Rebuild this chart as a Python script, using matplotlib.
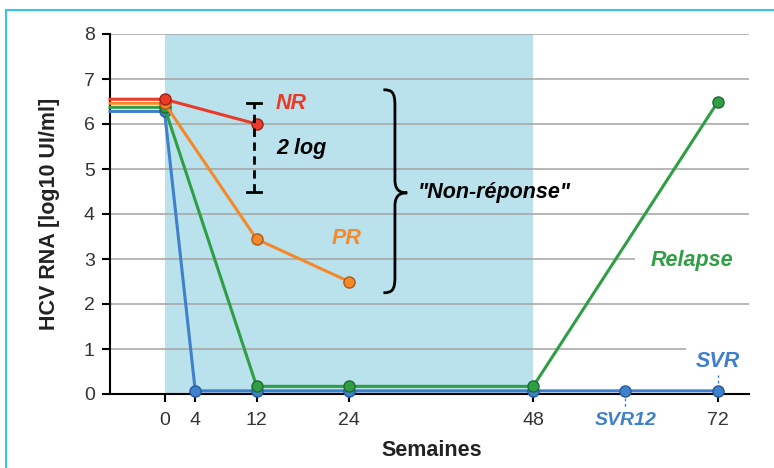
import matplotlib
matplotlib.use('Agg')
import matplotlib.pyplot as plt
from matplotlib.path import Path
from matplotlib.patches import PathPatch, Rectangle

plt.rcParams['font.family'] = ['Liberation Sans', 'DejaVu Sans']

# Data (weeks, log10 UI/ml); first point = pre-treatment baseline at axis start
x_start = -7.1
nr_weeks = [x_start, 0, 12]
nr_vals = [6.55, 6.55, 6.0]
pr_weeks = [x_start, 0, 12, 24]
pr_vals = [6.46, 6.46, 3.44, 2.5]
rel_weeks = [x_start, 0, 12, 24, 48, 72]
rel_vals = [6.37, 6.37, 0.17, 0.17, 0.17, 6.48]
svr_weeks = [x_start, 0, 4, 12, 24, 48, 60, 72]
svr_vals = [6.28, 6.28, 0.07, 0.07, 0.07, 0.07, 0.07, 0.07]

tick_pos = [0, 4, 12, 24, 48, 60, 72]
tick_labels = ['0', '4', '12', '24', '48', 'SVR12', '72']
treat_start, treat_end = 0, 48

RED = '#ec3a28'
ORANGE = '#f5892a'
GREEN = '#2f9e44'
BLUE = '#3f80cc'
SHADE = '#b9e2ec'
FS = 15.5

fig = plt.figure(figsize=(7.74, 4.68), dpi=100)
ax = fig.add_axes([110/774, 1 - 394/468, (749 - 110)/774, 360/468])
ax.set_xlim(x_start, 76.1)
ax.set_ylim(0, 8)

# treatment period
ax.axvspan(treat_start, treat_end, color=SHADE, zorder=0.2, lw=0)

ax.set_yticks(range(0, 9))
ax.yaxis.grid(True, color='#a3a3a3', lw=1.1, zorder=0.5)
ax.set_axisbelow(True)
for s in ['top', 'right']:
    ax.spines[s].set_visible(False)
ax.spines['left'].set_linewidth(1.5)
ax.spines['bottom'].set_linewidth(1.5)
ax.tick_params(axis='both', direction='out', length=6, width=1.5, labelsize=14,
               labelcolor='#333333')
ax.tick_params(axis='y', pad=5)
ax.tick_params(axis='x', pad=7)
ax.set_xticks(tick_pos)
ax.set_xticklabels(tick_labels)
svr12 = ax.get_xticklabels()[5]
svr12.set_color(BLUE)
svr12.set_fontweight('bold')
svr12.set_fontstyle('italic')
ax.xaxis.get_major_ticks()[5].tick1line.set_visible(False)
ax.plot([60, 60], [-0.08, -0.28], color=BLUE, lw=1, ls=(0, (2, 2)), clip_on=False)
ax.plot([72, 72], [0.25, 0.42], color=BLUE, lw=1, ls=(0, (2, 2)), zorder=3)


def series(xs, ys, color, edge):
    ax.plot(xs, ys, color=color, lw=2.2, marker='o', ms=8, markevery=slice(1, None),
            mfc=color, mec=edge, mew=1, clip_on=False, zorder=3)


series(svr_weeks, svr_vals, BLUE, '#2a5a96')
series(rel_weeks, rel_vals, GREEN, '#1f6b2e')
series(pr_weeks, pr_vals, ORANGE, '#a95a17')
series(nr_weeks, nr_vals, RED, '#9c2418')

# 2 log bar
ax.plot([11.7, 11.7], [4.5, 6.47], color='black', lw=2, ls=(0, (3, 2)), zorder=4)
for yy in [4.5, 6.47]:
    ax.plot([10.8, 12.6], [yy, yy], color='black', lw=2, zorder=4)
ax.text(14.6, 5.45, '2 log', fontsize=FS, fontweight='bold', fontstyle='italic',
        va='center', ha='left')

ax.text(14.5, 6.45, 'NR', color=RED, fontsize=FS, fontweight='bold', fontstyle='italic',
        va='center', ha='left')
ax.text(21.7, 3.45, 'PR', color=ORANGE, fontsize=FS, fontweight='bold', fontstyle='italic',
        va='center', ha='left')
ax.text(63.3, 2.97, 'Relapse', color=GREEN, fontsize=FS, fontweight='bold',
        fontstyle='italic', va='center', ha='left',
        bbox=dict(facecolor='white', edgecolor='none', pad=11), zorder=2)
ax.text(69.2, 0.72, 'SVR', color=BLUE, fontsize=FS, fontweight='bold',
        fontstyle='italic', va='center', ha='left',
        bbox=dict(facecolor='white', edgecolor='none', pad=7), zorder=2)

# brace for "Non-réponse"
bx0, bx1, bx2 = 28.5, 30.0, 31.6
ytop, ymid, ybot = 6.76, 4.47, 2.25
verts = [(bx0, ytop), (bx1 - 0.4, ytop), (bx1, ytop - 0.05), (bx1, ytop - 0.35),
         (bx1, ymid + 0.3),
         (bx1, ymid + 0.08), (bx1 + 0.5, ymid), (bx2, ymid),
         (bx1 + 0.5, ymid), (bx1, ymid - 0.08), (bx1, ymid - 0.3),
         (bx1, ybot + 0.35),
         (bx1, ybot + 0.05), (bx1 - 0.4, ybot), (bx0, ybot)]
codes = [Path.MOVETO, Path.CURVE4, Path.CURVE4, Path.CURVE4, Path.LINETO,
         Path.CURVE4, Path.CURVE4, Path.CURVE4,
         Path.CURVE4, Path.CURVE4, Path.CURVE4, Path.LINETO,
         Path.CURVE4, Path.CURVE4, Path.CURVE4]
ax.add_patch(PathPatch(Path(verts, codes), fill=False, lw=2, color='black', zorder=4))
ax.text(33.0, 4.47, '"Non-réponse"', fontsize=FS, fontweight='bold', fontstyle='italic',
        va='center', ha='left')

fig.text(50/774, 1 - 214/468, 'HCV RNA [log10 UI/ml]', rotation=90, ha='center',
         va='center', fontsize=FS, fontweight='bold', color='#222222')
fig.text(432/774, 1 - 450/468, 'Semaines', ha='center', va='center', fontsize=FS,
         fontweight='bold', color='#222222')

fig.add_artist(Rectangle((6/774, -0.2), 1.2, 1.2 - 10/468, transform=fig.transFigure,
                         fill=False, edgecolor='#38c4f0', lw=1.5))

fig.savefig('out.png', dpi=100)
